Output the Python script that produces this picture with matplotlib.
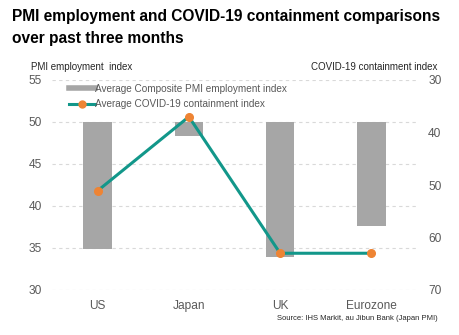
import matplotlib
matplotlib.use("Agg")
import matplotlib.pyplot as plt
from matplotlib.lines import Line2D

plt.rcParams['font.family'] = ['Liberation Sans', 'DejaVu Sans']

regions = ["US", "Japan", "UK", "Eurozone"]
pmi_employment = [34.9, 48.3, 33.9, 37.6]
containment = [51.1, 37.0, 63.0, 63.0]
pmi_ticks = [30, 35, 40, 45, 50, 55]
containment_ticks = [30, 40, 50, 60, 70]

bar_color = "#A6A6A6"
line_color = "#12978A"
marker_color = "#EE8434"
text_grey = "#595959"

fig = plt.figure(figsize=(4.6, 3.35), dpi=100)
ax = fig.add_axes([52 / 460, 1 - 290 / 335, 365 / 460, 210 / 335])
ax2 = ax.twinx()

x = list(range(len(regions)))
ax.bar(x, [v - 50 for v in pmi_employment], bottom=50, width=0.31,
       color=bar_color, zorder=2)
ax.set_ylim(30, 55)
ax.set_xlim(-0.5, len(regions) - 0.5)
ax.set_yticks(pmi_ticks)
ax.grid(axis='y', linestyle=(0, (3, 3)), color="#D9D9D9", linewidth=0.8, zorder=0)
ax.set_xticks(x)
ax.set_xticklabels(regions)

ax2.plot(x, containment, color=line_color, linewidth=2.2, zorder=3,
         marker='o', markersize=5.5, markerfacecolor=marker_color,
         markeredgecolor=marker_color)
ax2.set_ylim(70, 30)
ax2.set_yticks(containment_ticks)

for a in (ax, ax2):
    for s in a.spines.values():
        s.set_visible(False)
    a.tick_params(length=0, labelsize=8.6, colors=text_grey)
ax.tick_params(axis='y', pad=7.5)
ax.tick_params(axis='x', pad=7)
ax2.tick_params(axis='y', pad=8)

handles = [
    Line2D([], [], color=bar_color, linewidth=4),
    Line2D([], [], color=line_color, linewidth=2.2, marker='o', markersize=5,
           markerfacecolor=marker_color, markeredgecolor=marker_color),
]
labels = ["Average Composite PMI employment index",
          "Average COVID-19 containment index"]
ax2.legend(handles, labels, loc='upper left', bbox_to_anchor=(0.035, 1.0),
           frameon=False, fontsize=7.2, handlelength=2.6, handletextpad=0.05,
           labelspacing=0.55, labelcolor=text_grey, borderaxespad=0)

fig.text(12 / 460, 1 - 16 / 335, "PMI employment and COVID-19 containment comparisons",
         fontsize=11.2, fontweight='bold', va='center', ha='left')
fig.text(12 / 460, 1 - 38 / 335, "over past three months",
         fontsize=11.2, fontweight='bold', va='center', ha='left')
fig.text(31 / 460, 1 - 67 / 335, "PMI employment  index", fontsize=7.0,
         color="#262626", va='center', ha='left')
fig.text(437 / 460, 1 - 67 / 335, "COVID-19 containment index", fontsize=7.0,
         color="#262626", va='center', ha='right')
fig.text(438 / 460, 1 - 319 / 335, "Source: IHS Markit, au Jibun Bank (Japan PMI)",
         fontsize=5.5, color="#262626", va='center', ha='right')

fig.savefig("out.png", dpi=100)
